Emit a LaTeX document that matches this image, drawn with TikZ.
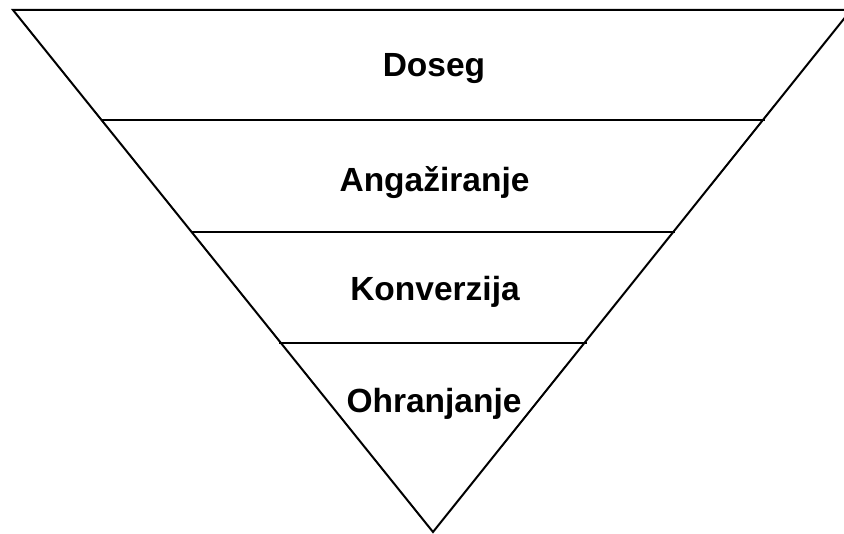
\documentclass[tikz,border=0pt]{standalone}
\usepackage{fontspec}
\setmainfont{Liberation Sans}
\begin{document}
\begin{tikzpicture}[x=1pt,y=-1pt,
  edge/.style={line width=2pt,black},
  label/.style={anchor=base,font=\fontsize{33.5}{38}\selectfont\bfseries,inner sep=0pt}]
\useasboundingbox (0,0) rectangle (844,534);
\clip (0,0) rectangle (844,534);
\coordinate (tl) at (13,10);
\coordinate (tr) at (851,10);
\coordinate (apex) at (433,532);
\draw[edge,line join=miter] (tl) -- (tr) -- (apex) -- cycle;
\draw[edge] (101,120) -- (765,120);
\draw[edge] (190.6,232) -- (675.4,232);
\draw[edge] (279.4,343) -- (586.6,343);
\node[label] (doseg) at (434,77) {Doseg};
\node[label] (ang) at (434.5,192) {Angažiranje};
\node[label] (konv) at (435,301) {Konverzija};
\node[label] (ohr) at (434,413) {Ohranjanje};
\end{tikzpicture}
\end{document}
